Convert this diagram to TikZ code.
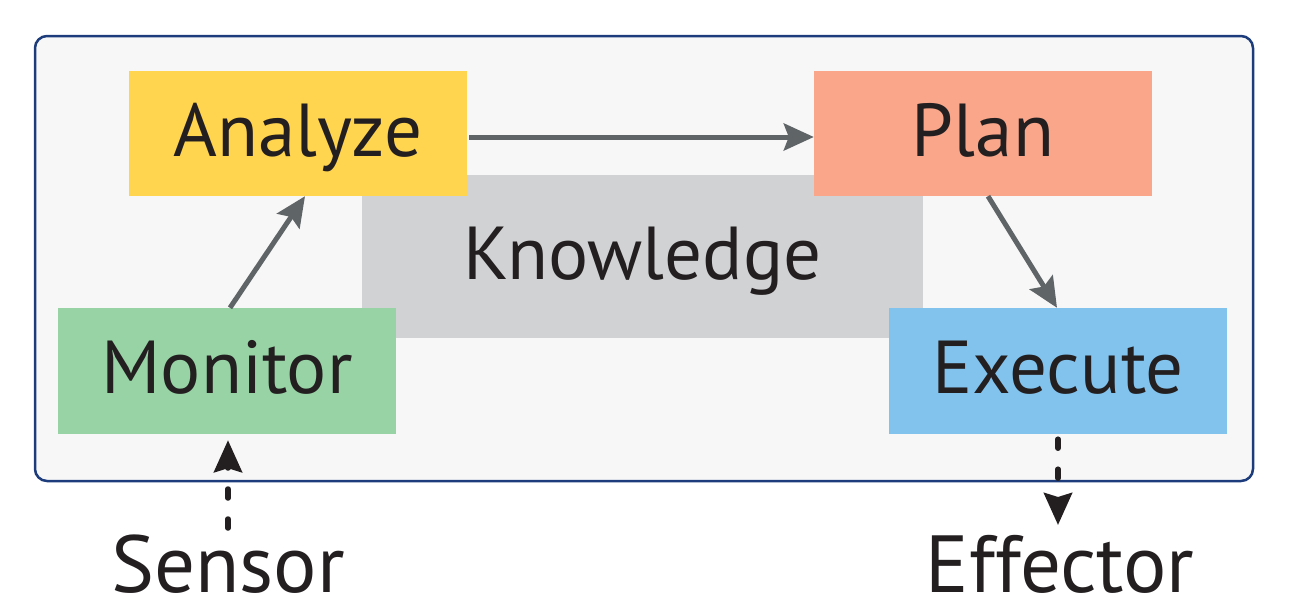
\documentclass[tikz,border=0pt]{standalone}
\usepackage{fontspec}
\setmainfont{PT Sans}
\usetikzlibrary{arrows.meta,calc}
\definecolor{frameblue}{HTML}{1D3C7C}
\definecolor{framefill}{HTML}{F7F7F7}
\definecolor{cyellow}{HTML}{FFD44F}
\definecolor{csalmon}{HTML}{F9A68A}
\definecolor{cgreen}{HTML}{98D3A6}
\definecolor{cblue}{HTML}{82C3EE}
\definecolor{cgray}{HTML}{D1D2D4}
\definecolor{arrowgray}{HTML}{5F6466}
\definecolor{txt}{HTML}{231F20}
\tikzset{
  box/.style={inner sep=0pt, minimum width=338pt, minimum height=125pt,
    text height=53pt, text depth=8pt, text=txt,
    font=\fontsize{75}{90}\selectfont},
  flow/.style={draw=arrowgray, line width=5pt,
    -{Stealth[length=30pt,width=27pt,inset=5pt]}},
  ioarrow/.style={draw=txt, line width=5.5pt, line cap=round,
    dash pattern=on 9pt off 21pt,
    -{Stealth[length=32pt,width=28pt,inset=4pt,line cap=butt]}},
  iolabel/.style={inner sep=0pt, anchor=base, text=txt,
    font=\fontsize{81}{96}\selectfont}
}
\begin{document}
\begin{tikzpicture}[x=1pt,y=-1pt]
\useasboundingbox (0,0) rectangle (1302,616);
\draw[frameblue, fill=framefill, line width=2.5pt, rounded corners=12pt]
  (35,36) rectangle (1253,481);
\node[box, fill=cgray, minimum width=561pt, minimum height=163pt] (knowledge) at (642.5,256.5) {Knowledge};
\node[box, fill=cyellow] (analyze) at (298,133.5) {Analyze};
\node[box, fill=csalmon] (plan) at (983,133.5) {Plan};
\node[box, fill=cgreen, minimum height=126pt] (monitor) at (227,371) {Monitor};
\node[box, fill=cblue, minimum height=126pt] (execute) at (1058,371) {Execute};
\node[iolabel] (sensor) at (228,592) {Sensor};
\node[iolabel] (effector) at (1060,592) {Effector};
\coordinate (sensortop) at (228,528);
\coordinate (effectortip) at (1058,525);
\draw[flow] ([xshift=2pt,yshift=-3.5pt]analyze.east) -- ([yshift=-3.5pt]plan.west);
\draw[flow] ([xshift=3pt]monitor.north) -- ([xshift=7pt]analyze.south);
\draw[flow] ([xshift=5pt]plan.south) -- ([xshift=-1pt]execute.north);
\draw[ioarrow] (sensortop) -- ([xshift=1pt,yshift=-6pt]monitor.south);
\draw[ioarrow] ([yshift=-5pt]execute.south) -- (effectortip);
\end{tikzpicture}
\end{document}
